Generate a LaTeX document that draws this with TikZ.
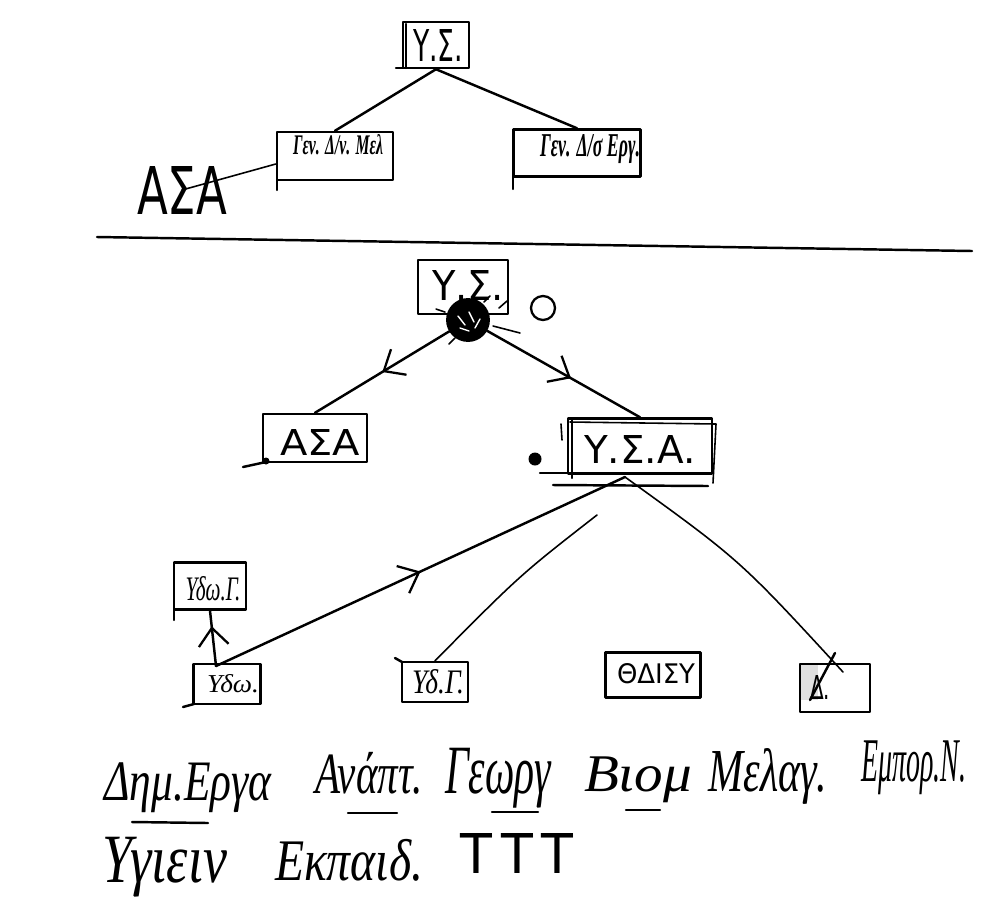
\documentclass[tikz,border=0pt]{standalone}
\usepackage{fontspec}
\setmainfont{DejaVu Sans}
\newfontfamily\hand{Liberation Serif}
\usetikzlibrary{arrows.meta,decorations.markings,calc}
\newlength\pxu
\setlength\pxu{0.02cm}
\newcommand\fitbox[3]{\resizebox{#1\pxu}{#2\pxu}{#3}}
\newcommand\fitall[3]{\resizebox*{#1\pxu}{#2\pxu}{#3}}
\begin{document}
\begin{tikzpicture}[x=0.02cm, y=-0.02cm, line cap=round, line join=round,
  pen/.style={line width=1.4pt},
  fine/.style={line width=0.9pt},
  box/.style={draw, rectangle, line width=1.4pt, inner sep=0pt},
  lbl/.style={inner sep=0pt, outer sep=0pt},
  mid arrow/.style={postaction={decorate}, decoration={markings,
    mark=at position #1 with {\arrow{Straight Barb[length=10pt,width=17pt,line width=1.3pt]}}}}]
\useasboundingbox (0,0) rectangle (1000,910);
\fill[white] (0,0) rectangle (1000,910);

% ---------------- upper sketch ----------------
\node[box, minimum width=66\pxu, minimum height=46\pxu] (ys1) at (436,45) {};
\draw[pen] (406,24) -- (406,68);
\draw[pen] (396,68) -- (403,68);
\node[lbl] at (438,45) {\fitbox{50}{32}{Υ.Σ.}};

\node[box, minimum width=116\pxu, minimum height=48\pxu] (gdm) at (335,156) {};
\draw[pen] (277,178) -- (277,190);
\node[lbl] at (338,145) {\fitbox{90}{20}{\hand\itshape\bfseries Γεν. Δ/ν. Μελ}};

\node[box, minimum width=127\pxu, minimum height=47\pxu] (gde) at (577,153) {};
\draw[pen] (513,176) -- (513,189);
\node[lbl] at (590,149) {\fitbox{100}{22}{\hand\itshape\bfseries Γεν. Δ/σ Εργ.}};

\node[lbl] (asa1) at (182,190) {\fitbox{90}{48}{ΑΣΑ}};

\draw[pen] (ys1.south) -- (gdm.north);
\draw[pen] (ys1.south) -- (gde.north);
\draw[fine] (asa1.center) -- ($(gdm.west)+(0,8)$);

\coordinate (sepL) at (97,237);
\coordinate (sepR) at (972,251);
\draw[pen] (sepL) -- (sepR);

% ---------------- lower sketch ----------------
\node[box, minimum width=90\pxu, minimum height=54\pxu] (ys2) at (463,287) {};
\node[lbl] at (468,285) {\fitbox{72}{30}{Υ.Σ.}};

\node[circle, fill=black, draw=black, line width=2.2pt, minimum size=40\pxu, inner sep=0pt] (blob) at (468,320) {};
\draw[white, line width=0.8pt] (458,316) -- (465,325) (469,312) -- (474,322) (460,328) -- (469,331) (475,328) -- (480,319);
\draw[fine] (493,326) -- (520,333) (499,308) -- (507,301) (445,312) -- (436,309) (455,338) -- (449,344) (484,302) -- (490,296);

\node[circle, draw, line width=1.3pt, minimum size=24\pxu, inner sep=0pt] (ring) at (543,308) {};

\node[box, minimum width=104\pxu, minimum height=48\pxu] (asa2) at (315,438) {};
\node[lbl] at (320,442) {\fitbox{80}{26}{ΑΣΑ}};
\draw[pen] (243,467) -- (266,462);
\node[circle, fill=black, minimum size=7\pxu, inner sep=0pt] (adot) at (266,461) {};

\node[box, minimum width=144\pxu, minimum height=55\pxu] (ysa) at (640,446) {};
\draw[pen] (572,420) -- (572,478);
\draw[fine] (570,422) -- (716,424) -- (713,483);
\draw[pen] (540,473) -- (568,473);
\draw[pen] (553,485) -- (708,486);
\draw[fine] (561,424) -- (562,440);
\node[lbl] at (640,449) {\fitbox{112}{28}{Υ.Σ.Α.}};
\node[circle, fill=black, minimum size=13\pxu, inner sep=0pt] (dot) at (535,459) {};

\node[box, minimum width=72\pxu, minimum height=47\pxu] (ydg1) at (210,586) {};
\draw[pen] (174,609) -- (174,620);
\node[lbl] at (213,589) {\fitbox{55}{24}{\hand\itshape Υδω.Γ.}};

\node[box, minimum width=67\pxu, minimum height=40\pxu] (yd) at (227,684) {};
\draw[pen] (183,707) -- (194,704);
\node[lbl] at (233,684) {\fitbox{52}{18}{\hand\itshape Υδω.}};

\node[box, minimum width=66\pxu, minimum height=40\pxu] (ydg2) at (435,682) {};
\draw[pen] (395,658) -- (402,662);
\node[lbl] at (438,682) {\fitbox{52}{24}{\hand\itshape Υδ.Γ.}};

\node[box, minimum width=95\pxu, minimum height=45\pxu] (odisy) at (653,675) {};
\node[lbl] at (656,674) {\fitbox{78}{20}{ΘΔΙΣΥ}};

\fill[black!12] (801,664) rectangle (818,700);
\node[box, minimum width=70\pxu, minimum height=48\pxu] (delta) at (835,688) {};
\node[lbl] at (820,687) {\fitbox{20}{24}{Δ.}};
\draw[pen] (835,653) -- (810,700);

\coordinate (ysaB) at (625,477);
\coordinate (ydT) at (216,666);
\coordinate (free1) at (597,515);
\coordinate (dEnd) at (843,672);

\draw[pen, mid arrow=0.5] (blob) -- (asa2.north);
\draw[pen, mid arrow=0.55] (blob) -- (ysa.north);
\draw[pen, mid arrow=0.5] (ydT) -- (ysaB);
\draw[pen, mid arrow=0.72] (ydT) -- (ydg1.south);
\draw[fine] (free1) .. controls (520,575) .. (ydg2.north);
\draw[fine] (ysaB) .. controls (740,560) .. (dEnd);

% ---------------- handwritten list ----------------
\node[lbl] (w1) at (188,788) {\fitall{167}{50}{\hand\itshape Δημ.Εργα}};
\node[lbl] (w2) at (369,773) {\fitall{108}{42}{\hand\itshape Ανάπτ.}};
\node[lbl] (w3) at (498,778) {\fitall{106}{60}{\hand\itshape Γεωργ}};
\node[lbl] (w4) at (638,780) {\fitall{108}{46}{\hand\itshape Βιομ}};
\node[lbl] (w5) at (768,776) {\fitall{119}{56}{\hand\itshape Μελαγ.}};
\node[lbl] (w6) at (914,768) {\fitall{105}{54}{\hand\itshape Εμπορ.Ν.}};
\draw[pen] (132,822) -- (208,823);
\draw[pen] (348,813) -- (397,813);
\draw[pen] (492,812) -- (538,812);
\draw[pen] (626,810) -- (660,810);
\node[lbl] (w7) at (165,867) {\fitall{124}{60}{\hand\itshape Υγιειν}};
\node[lbl] (w8) at (349,860) {\fitall{148}{42}{\hand\itshape Εκπαιδ.}};
\node[lbl] (w9) at (517,853) {\fitbox{113}{40}{Τ\,Τ\,Τ}};
\end{tikzpicture}
\end{document}
